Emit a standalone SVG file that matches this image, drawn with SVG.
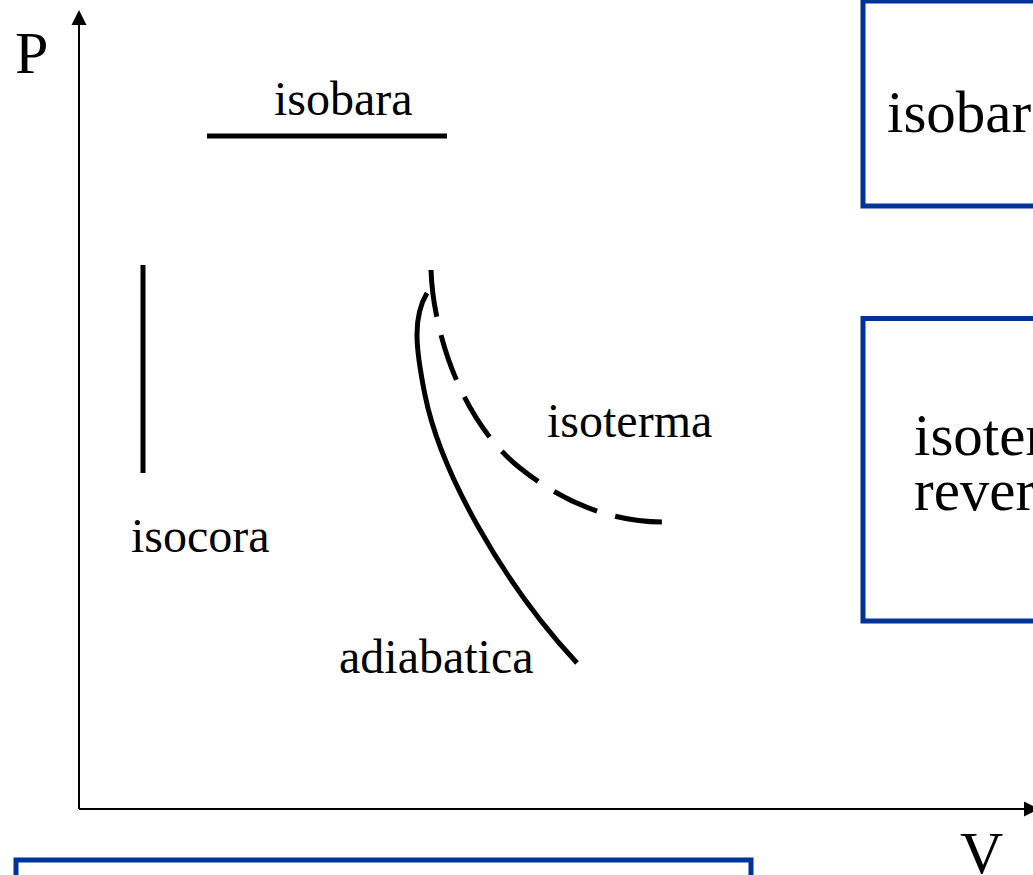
<svg xmlns="http://www.w3.org/2000/svg" width="1033" height="875" viewBox="0 0 1033 875">
  <style>
    text { font-family: "Liberation Serif", "Times New Roman", serif; fill: #000; }
    .lbl { font-size: 48px; }
    .axl { font-size: 60px; }
    .boxt { font-size: 59px; }
    .box { fill: #fff; stroke: #003399; stroke-width: 5; }
    .axis { stroke: #000; stroke-width: 2; fill: none; }
    .curve { stroke: #000; stroke-width: 5; fill: none; }
  </style>
  <rect width="1033" height="875" fill="#fff"/>

  <!-- axes -->
  <g id="axes">
    <line class="axis" x1="79" y1="809" x2="79" y2="24"/>
    <path d="M79,10 L86.5,25 L71.5,25 Z" fill="#000"/>
    <line class="axis" x1="79" y1="809" x2="1024" y2="809"/>
    <path d="M1039,809 L1024,801.5 L1024,816.5 Z" fill="#000"/>
    <text class="axl" x="15" y="73">P</text>
    <text class="axl" x="960" y="873">V</text>
  </g>

  <!-- transformation curves -->
  <g id="connectors">
    <line id="isobara-line" class="curve" x1="207" y1="136" x2="447" y2="136"/>
    <line id="isocora-line" class="curve" x1="143" y1="265" x2="143" y2="473"/>
    <path id="isoterma-line" class="curve" pathLength="379" stroke-dasharray="47.4 18.9" d="M431,270 C433,330 460,420 520,468 C570,508 620,522 662,522"/>
    <path id="adiabatica-line" class="curve" d="M427,293 C412,318 416,350 425,395 C440,470 500,580 577,663"/>
  </g>

  <g id="labels">
    <text class="lbl" x="274" y="115">isobara</text>
    <text class="lbl" x="131" y="552">isocora</text>
    <text class="lbl" x="547" y="437">isoterma</text>
    <text class="lbl" x="339" y="673">adiabatica</text>
  </g>

  <!-- info boxes -->
  <g id="box-isobara">
    <rect class="box" x="863" y="1" width="200" height="205"/>
    <text class="boxt" x="887" y="132">isobara</text>
  </g>
  <g id="box-isoterma">
    <rect class="box" x="863" y="318.5" width="200" height="302.5"/>
    <text class="boxt" x="914" y="455">isoterma</text>
    <text class="boxt" x="914" y="510">reversibile</text>
  </g>
  <g id="box-bottom">
    <rect class="box" x="16" y="860" width="735" height="60"/>
  </g>
</svg>
